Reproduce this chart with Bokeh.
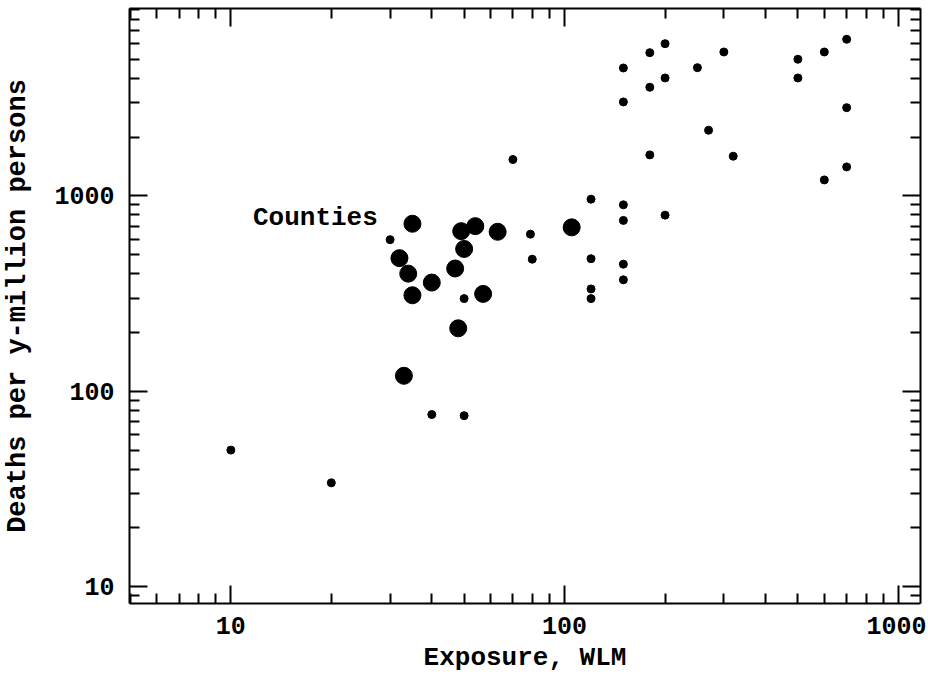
from bokeh.plotting import figure
from bokeh.models import LogAxis, CustomJSTickFormatter, Label, ColumnDataSource, FixedTicker
from bokeh.embed import file_html
from bokeh.resources import INLINE

# ---- data ----
large_x = [35, 32, 34, 35, 40, 33, 47, 50, 49, 54, 63, 57, 48, 105]
large_y = [720, 480, 400, 310, 360, 120, 425, 535, 660, 700, 655, 315, 210, 690]

small_x = [10, 20, 30, 40, 50, 50, 70, 79, 80, 120, 120, 120, 120,
           150, 150, 150, 150, 200, 150, 150, 180, 200, 180, 200,
           250, 300, 270, 180, 320, 500, 500, 600, 700, 700, 600, 700]
small_y = [50, 34, 597, 76, 75, 298, 1535, 637, 474, 962, 477, 334, 298,
           900, 749, 447, 372, 797, 4515, 3026, 5408, 6012, 3597, 4014,
           4532, 5452, 2167, 1621, 1596, 5003, 4014, 5452, 6332, 2829, 1207, 1407]

major_ticks = [1, 10, 100, 1000, 10000]
minor_ticks = [m * d for d in [1, 10, 100, 1000] for m in range(2, 10)]

x_range = (4.97, 1165)
y_range = (8.2, 9100)
x_title = "Exposure, WLM"
y_title = "Deaths per y-million persons"
label_text = "Counties"
label_pos = (11.65, 772)

FONT = "Liberation Mono"

p = figure(x_axis_type="log", y_axis_type="log",
           x_range=x_range, y_range=y_range,
           frame_width=791, frame_height=595,
           min_border_left=129, min_border_right=6,
           min_border_top=8, min_border_bottom=69,
           output_backend="svg", toolbar_location=None)
p.xgrid.visible = False
p.ygrid.visible = False
p.outline_line_color = None
p.background_fill_color = "white"
p.border_fill_color = "white"

fmt = CustomJSTickFormatter(code="return Math.round(tick).toString();")
blank = CustomJSTickFormatter(code="return '';")

def style(ax, labels=True):
    ax.ticker = FixedTicker(ticks=major_ticks, minor_ticks=minor_ticks)
    ax.axis_line_width = 2
    ax.axis_line_color = "black"
    ax.major_tick_in = 18
    ax.major_tick_out = 0
    ax.minor_tick_in = 10
    ax.minor_tick_out = 0
    ax.major_tick_line_width = 2
    ax.minor_tick_line_width = 2
    ax.major_tick_line_color = "black"
    ax.minor_tick_line_color = "black"
    if labels:
        ax.formatter = fmt
        ax.major_label_text_font = FONT
        ax.major_label_text_font_size = "25px"
        ax.major_label_text_font_style = "bold"
        ax.major_label_text_color = "black"
        ax.axis_label_text_font = FONT
        ax.axis_label_text_font_style = "bold"
        ax.axis_label_text_color = "black"
    else:
        ax.formatter = blank
        ax.major_label_standoff = 0
        ax.major_label_text_font_size = "1px"

xa = p.xaxis[0]
ya = p.yaxis[0]
style(xa)
style(ya)
xa.axis_label = x_title
xa.axis_label_text_font_size = "26px"
xa.major_label_standoff = 13
xa.axis_label_standoff = 6
ya.axis_label = y_title
ya.axis_label_text_font_size = "27px"
ya.major_label_standoff = 15
ya.axis_label_standoff = 18

top = LogAxis()
style(top, labels=False)
p.add_layout(top, "above")
right = LogAxis()
style(right, labels=False)
p.add_layout(right, "right")

src_s = ColumnDataSource(dict(x=small_x, y=small_y))
src_l = ColumnDataSource(dict(x=large_x, y=large_y))
p.scatter("x", "y", source=src_s, size=8, color="black")
p.scatter("x", "y", source=src_l, size=17, color="black")

p.add_layout(Label(x=label_pos[0], y=label_pos[1], text=label_text,
                   text_font=FONT, text_font_size="26px", text_font_style="bold",
                   text_color="black", text_baseline="alphabetic"))

open("out.html", "w").write(file_html(p, INLINE))
